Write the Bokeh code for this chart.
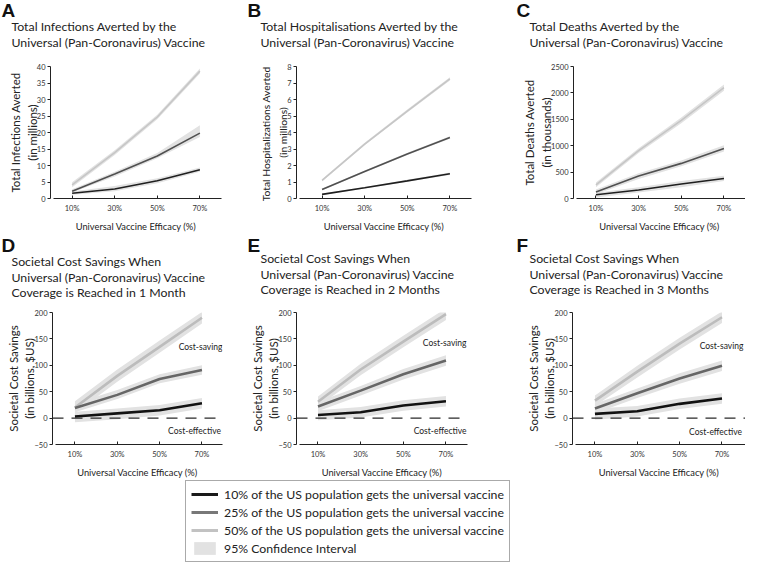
from bokeh.plotting import figure
from bokeh.layouts import row, column
from bokeh.models import FixedTicker, Span, Label, Legend, LegendItem, Range1d
from bokeh.core.properties import value
from bokeh.embed import file_html
from bokeh.resources import INLINE

FONT = "Lato"
LETTER_FONT = "Liberation Sans"

# ---------------- data ----------------
efficacy = [10, 30, 50, 70]
efficacy_tick_labels = ["10%", "30%", "50%", "70%"]
x_axis_title = "Universal Vaccine Efficacy (%)"
series_names = [
    "10% of the US population gets the universal vaccine",
    "25% of the US population gets the universal vaccine",
    "50% of the US population gets the universal vaccine",
]
ci_name = "95% Confidence Interval"
panel_letters = ["A", "B", "C", "D", "E", "F"]

# A: infections averted (millions)
a_title = ["Total Infections Averted by the", "Universal (Pan-Coronavirus) Vaccine"]
a_ylabel = "Total Infections Averted\n(in millions)"
a_yticks = [0, 5, 10, 15, 20, 25, 30, 35, 40]
a_cov10 = [1.6, 2.9, 5.4, 8.7]
a_cov10_lo = [1.1, 2.2, 4.6, 8.1]
a_cov10_hi = [2.1, 3.8, 6.1, 9.4]
a_cov25 = [2.2, 7.4, 12.9, 19.8]
a_cov25_lo = [1.8, 6.7, 12.2, 18.6]
a_cov25_hi = [2.8, 8.1, 13.8, 22.2]
a_cov50 = [4.1, 13.9, 24.7, 38.6]
a_cov50_lo = [3.4, 13.2, 24.0, 37.9]
a_cov50_hi = [4.9, 14.6, 25.4, 39.4]

# B: hospitalisations averted (millions)
b_title = ["Total Hospitalisations Averted by the", "Universal (Pan-Coronavirus) Vaccine"]
b_ylabel = "Total  Hospitalizations Averted\n(in millions)"
b_yticks = [0, 1, 2, 3, 4, 5, 6, 7, 8]
b_cov10 = [0.25, 0.65, 1.07, 1.5]
b_cov10_lo = [0.2, 0.6, 1.01, 1.43]
b_cov10_hi = [0.3, 0.7, 1.13, 1.57]
b_cov25 = [0.55, 1.63, 2.7, 3.7]
b_cov25_lo = [0.5, 1.57, 2.63, 3.62]
b_cov25_hi = [0.6, 1.69, 2.77, 3.78]
b_cov50 = [1.1, 3.3, 5.3, 7.25]
b_cov50_lo = [1.03, 3.22, 5.21, 7.15]
b_cov50_hi = [1.17, 3.38, 5.39, 7.35]

# C: deaths averted (thousands)
c_title = ["Total Deaths Averted by the", "Universal (Pan-Coronavirus) Vaccine"]
c_ylabel = "Total Deaths Averted\n(in thousands)"
c_yticks = [0, 500, 1000, 1500, 2000, 2500]
c_cov10 = [70, 160, 275, 380]
c_cov10_lo = [20, 115, 215, 330]
c_cov10_hi = [110, 215, 330, 430]
c_cov25 = [123, 426, 665, 945]
c_cov25_lo = [80, 370, 610, 890]
c_cov25_hi = [170, 480, 720, 1010]
c_cov50 = [259, 905, 1480, 2100]
c_cov50_lo = [215, 860, 1425, 2040]
c_cov50_hi = [305, 950, 1535, 2160]

# D-F: societal cost savings (billions $US)
cost_ylabel = "Societal Cost Savings\n(in billions, $US)"
cost_yticks = [-50, 0, 50, 100, 150, 200]
cost_saving_text = "Cost-saving"
cost_effective_text = "Cost-effective"

d_title = ["Societal Cost Savings When", "Universal (Pan-Coronavirus) Vaccine",
           "Coverage is Reached in 1 Month"]
d_cov10 = [3, 9, 15, 28]
d_cov10_lo = [-8, -2, 5, 18]
d_cov10_hi = [12, 18, 25, 38]
d_cov25 = [19, 44, 74, 91]
d_cov25_lo = [11, 36, 66, 82]
d_cov25_hi = [28, 53, 83, 100]
d_cov50 = [20, 80, 135, 190]
d_cov50_lo = [9, 69, 124, 179]
d_cov50_hi = [32, 92, 147, 201]

e_title = ["Societal Cost Savings When", "Universal (Pan-Coronavirus) Vaccine",
           "Coverage is Reached in 2 Months"]
e_cov10 = [6, 11, 24, 32]
e_cov10_lo = [-4, 1, 14, 22]
e_cov10_hi = [15, 21, 34, 42]
e_cov25 = [22, 52, 83, 109]
e_cov25_lo = [13, 43, 73, 99]
e_cov25_hi = [31, 61, 93, 119]
e_cov50 = [31, 92, 145, 197]
e_cov50_lo = [21, 81, 134, 186]
e_cov50_hi = [41, 103, 156, 208]

f_title = ["Societal Cost Savings When", "Universal (Pan-Coronavirus) Vaccine",
           "Coverage is Reached in 3 Months"]
f_cov10 = [8, 13, 27, 37]
f_cov10_lo = [-3, 3, 17, 27]
f_cov10_hi = [18, 23, 37, 47]
f_cov25 = [18, 47, 75, 99]
f_cov25_lo = [9, 38, 65, 89]
f_cov25_hi = [27, 56, 85, 109]
f_cov50 = [33, 88, 141, 191]
f_cov50_lo = [23, 77, 130, 180]
f_cov50_hi = [43, 99, 152, 202]

# ---------------- styling / layout (page pixels) ----------------
PAGE_X0, PAGE_X1 = 8, 753
top_colors = ["#1f1f1f", "#505050", "#c6c6c6"]
bottom_colors = ["#121212", "#666666", "#bcbcbc"]
legend_colors = ["#1a1a1a", "#787878", "#c2c2c2"]
ci_color = "#e2e2e2"
text_color = "#222222"
TITLE_SIZE = "12.3px"


def add_label(p, fr, px, py, text, size, align="center"):
    p.add_layout(Label(x=px - fr[0], y=fr[3] - py, x_units="screen", y_units="screen",
                       text=text, text_font=FONT, text_font_size=f"{size}px",
                       text_align=align, text_baseline="middle", text_color=text_color))


def make_header(y_top, y_bottom, letters, letter_xy, titles, title_x, title_ys):
    h = figure(width=PAGE_X1 - PAGE_X0, height=y_bottom - y_top, min_border=0,
               x_axis_type=None, y_axis_type=None,
               x_range=Range1d(PAGE_X0, PAGE_X1), y_range=Range1d(y_bottom, y_top),
               output_backend="svg", toolbar_location=None, outline_line_color=None,
               background_fill_color="white", border_fill_color="white")
    h.grid.visible = False
    h.text(x=[xy[0] for xy in letter_xy], y=[xy[1] for xy in letter_xy], text=letters,
           text_font=value(LETTER_FONT), text_font_size=value("19px"),
           text_font_style="bold", text_baseline="middle", text_align="left",
           text_color="#111111")
    xs, ys, ts = [], [], []
    for lines, tx, tys in zip(titles, title_x, title_ys):
        for line, ty in zip(lines, tys):
            xs.append(tx)
            ys.append(ty)
            ts.append(line)
    h.text(x=xs, y=ys, text=ts, text_font=value(FONT), text_font_size=value(TITLE_SIZE),
           text_baseline="middle", text_align="left", text_color=text_color)
    return h


def make_panel(ylabel, yticks, yrange, mids, los, his, canvas, frame, xrange,
               lw, colors, cost=None, ylabel_size=11.5):
    cx0, cy0, cx1, cy1 = canvas
    fx0, fy0, fx1, fy1 = frame
    p = figure(frame_width=fx1 - fx0, frame_height=fy1 - fy0,
               min_border_left=fx0 - cx0, min_border_right=cx1 - fx1,
               min_border_top=fy0 - cy0, min_border_bottom=cy1 - fy1,
               x_range=Range1d(*xrange), y_range=Range1d(*yrange),
               output_backend="svg", toolbar_location=None,
               background_fill_color="white", border_fill_color="white",
               outline_line_color=None)
    p.grid.visible = False

    for lo, hi in zip(los, his):
        p.varea(x=efficacy, y1=lo, y2=hi, fill_color=ci_color, fill_alpha=1.0)
    if cost is not None:
        p.add_layout(Span(location=0, dimension="width", line_color="#2a2a2a",
                          line_width=1.2, line_dash="11 8"))
    for mid, col in reversed(list(zip(mids, colors))):
        p.line(x=efficacy, y=mid, line_color=col, line_width=lw)

    xa = p.xaxis[0]
    ya = p.yaxis[0]
    xa.ticker = FixedTicker(ticks=efficacy)
    xa.major_label_overrides = dict(zip(efficacy, efficacy_tick_labels))
    xa.bounds = (xrange[0] + 1.5, xrange[1])
    ya.ticker = FixedTicker(ticks=yticks)
    for ax in (xa, ya):
        ax.axis_line_color = "#222222"
        ax.axis_line_width = 1
        ax.major_tick_line_color = "#222222"
        ax.minor_tick_line_color = None
        ax.major_label_text_font = FONT
        ax.major_label_text_font_size = "7.5px"
        ax.major_label_text_color = "#333333"
        ax.axis_label_text_font = FONT
        ax.axis_label_text_font_style = "normal"
        ax.axis_label_text_color = text_color
    xa.major_tick_in = 3
    xa.major_tick_out = 0
    ya.major_tick_in = 0
    ya.major_tick_out = 3
    xa.major_label_standoff = 5
    ya.major_label_standoff = 2
    xa.axis_label = x_axis_title
    xa.axis_label_text_font_size = "9.3px"
    xa.axis_label_standoff = 5
    ya.axis_label = ylabel
    ya.axis_label_text_font_size = f"{ylabel_size}px"
    ya.axis_label_text_line_height = 1.28 * 11.5 / ylabel_size
    ya.axis_label_standoff = -5

    if cost is not None:
        for (px, py, align), txt in zip(cost, [cost_saving_text, cost_effective_text]):
            add_label(p, frame, px, py, txt, 8.5, align)
    return p


# headers (panel letters + titles)
head1 = make_header(8, 70, panel_letters[:3], [(9, 18), (255, 18), (524, 18)],
                    [a_title, b_title, c_title], [19, 268, 537],
                    [[34, 50], [34, 50], [34, 50]])
head2 = make_header(236, 309, panel_letters[3:], [(9, 247), (255, 247), (524, 247)],
                    [d_title, e_title, f_title], [19, 268, 537],
                    [[263, 279, 294], [260, 276, 291], [260, 276, 291]])

pa = make_panel(a_ylabel, a_yticks, (0, 40),
                [a_cov10, a_cov25, a_cov50], [a_cov10_lo, a_cov25_lo, a_cov50_lo],
                [a_cov10_hi, a_cov25_hi, a_cov50_hi],
                (8, 70, 252, 236), (58, 74, 229, 206), (-0.15, 80.15), 1.6, top_colors)
pb = make_panel(b_ylabel, b_yticks, (0, 8),
                [b_cov10, b_cov25, b_cov50], [b_cov10_lo, b_cov25_lo, b_cov50_lo],
                [b_cov10_hi, b_cov25_hi, b_cov50_hi],
                (252, 70, 519, 236), (304, 74, 479, 206), (-2.0, 80.15), 1.6, top_colors,
                ylabel_size=10.3)
pc = make_panel(c_ylabel, c_yticks, (0, 2500),
                [c_cov10, c_cov25, c_cov50], [c_cov10_lo, c_cov25_lo, c_cov50_lo],
                [c_cov10_hi, c_cov25_hi, c_cov50_hi],
                (519, 70, 753, 236), (581, 74, 753, 206), (-0.53, 80.1), 1.6, top_colors)
pd_ = make_panel(cost_ylabel, cost_yticks, (-50, 200),
                 [d_cov10, d_cov25, d_cov50], [d_cov10_lo, d_cov25_lo, d_cov50_lo],
                 [d_cov10_hi, d_cov25_hi, d_cov50_hi],
                 (8, 309, 252, 476), (60, 314, 230, 446), (-0.6, 79.7), 2.6, bottom_colors,
                 cost=[(208, 348, "center"), (202, 432, "center")])
pe = make_panel(cost_ylabel, cost_yticks, (-50, 200),
                [e_cov10, e_cov25, e_cov50], [e_cov10_lo, e_cov25_lo, e_cov50_lo],
                [e_cov10_hi, e_cov25_hi, e_cov50_hi],
                (252, 309, 519, 476), (304, 314, 475, 446), (-0.08, 80.1), 2.6, bottom_colors,
                cost=[(474, 344, "right"), (474, 432, "right")])
pf = make_panel(cost_ylabel, cost_yticks, (-50, 200),
                [f_cov10, f_cov25, f_cov50], [f_cov10_lo, f_cov25_lo, f_cov50_lo],
                [f_cov10_hi, f_cov25_hi, f_cov50_hi],
                (519, 309, 753, 476), (580, 314, 753, 446), (-0.6, 81.1), 2.6, bottom_colors,
                cost=[(729, 347, "center"), (723, 433, "center")])

# ---------------- legend ----------------
lg = figure(width=PAGE_X1 - PAGE_X0, height=83, min_border=0,
            x_axis_type=None, y_axis_type=None,
            x_range=Range1d(0, 1), y_range=Range1d(0, 1), output_backend="svg",
            toolbar_location=None, outline_line_color=None,
            background_fill_color="white", border_fill_color="white")
lg.grid.visible = False
items = []
# legend-only renderers: their data lies outside this figure's ranges, so only the legend shows
for name, col, ys in zip(series_names, legend_colors, [d_cov10, d_cov25, d_cov50]):
    r = lg.line(x=efficacy, y=ys, line_color=col, line_width=3)
    items.append(LegendItem(label=name, renderers=[r]))
rci = lg.varea(x=efficacy, y1=d_cov10_lo, y2=d_cov10_hi, fill_color=ci_color)
items.append(LegendItem(label=ci_name, renderers=[rci]))
legend = Legend(items=items, location=(185, 1), orientation="vertical",
                padding=5, spacing=2, margin=0, glyph_width=27, glyph_height=16,
                label_height=16, label_standoff=6,
                label_text_font=FONT, label_text_font_size="12.3px",
                label_text_color=text_color,
                border_line_color="#555555", border_line_width=1,
                background_fill_color="white", background_fill_alpha=1.0)
lg.add_layout(legend)

layout = column(head1, row(pa, pb, pc), head2, row(pd_, pe, pf), lg)
open("out.html", "w").write(file_html(layout, INLINE))
